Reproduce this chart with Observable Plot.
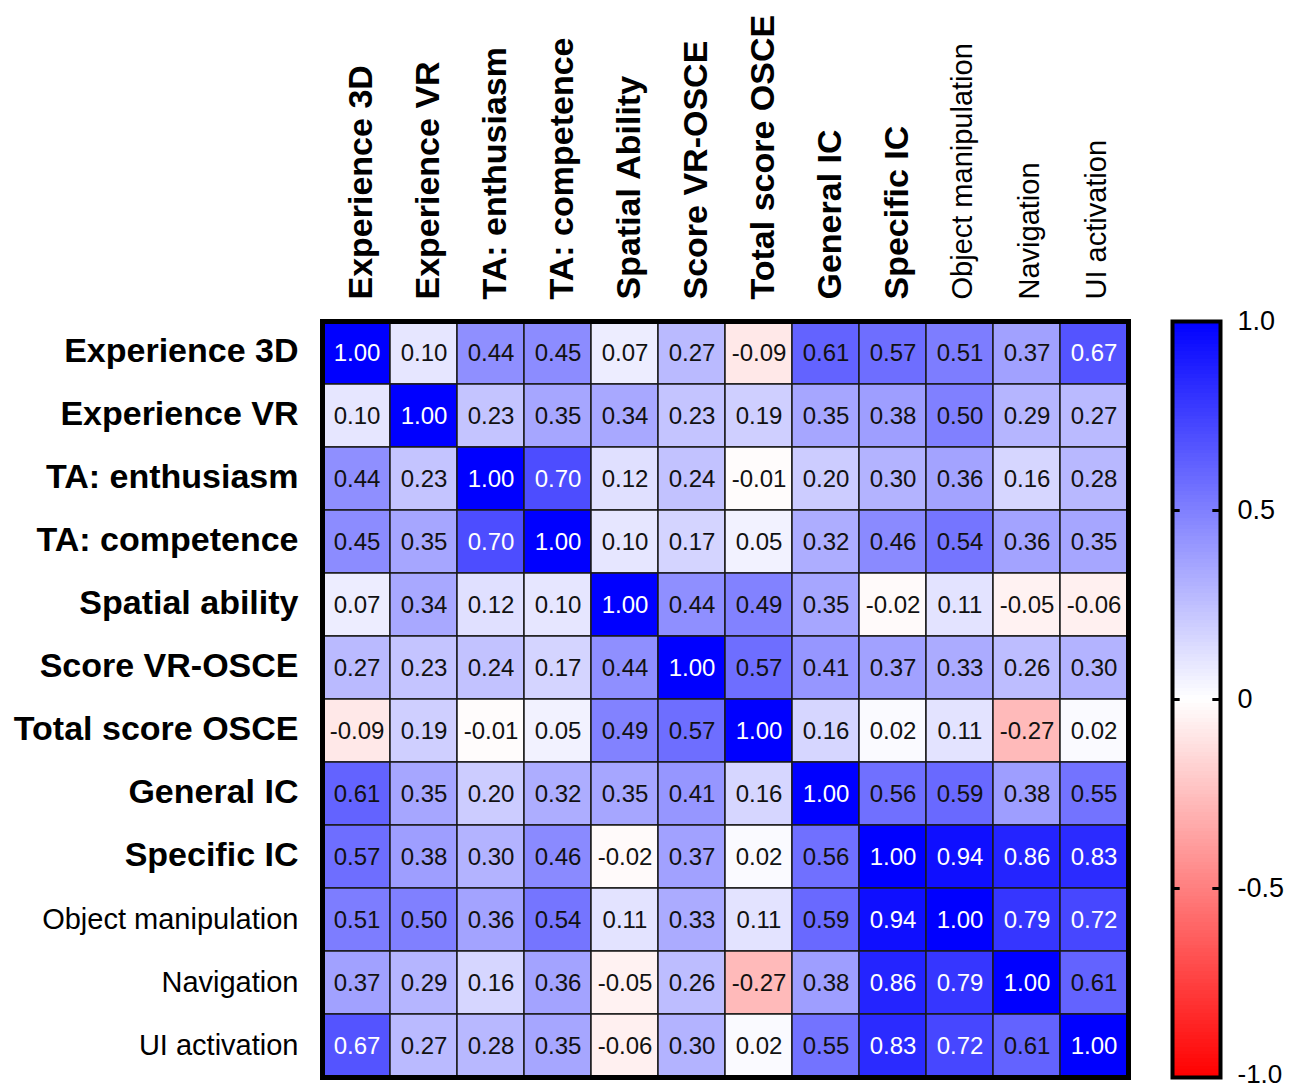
<!DOCTYPE html>
<html>
<head>
<meta charset="utf-8">
<script src="https://cdn.jsdelivr.net/npm/d3@7"></script>
<script src="https://cdn.jsdelivr.net/npm/@observablehq/plot@0.6"></script>
<style>
  html, body { margin: 0; padding: 0; background: #fff; }
  #wrap { position: relative; width: 1293px; height: 1089px; font-family: "Liberation Sans", Arial, sans-serif; }
  #main { position: absolute; left: 0; top: 0; }
  #bar { position: absolute; left: 1150px; top: 0; }
</style>
</head>
<body>
<div id="wrap"><div id="main"></div><div id="bar"></div></div>
<script>
const colLabels = ["Experience 3D", "Experience VR", "TA: enthusiasm", "TA: competence", "Spatial Ability", "Score VR-OSCE", "Total score OSCE", "General IC", "Specific IC", "Object manipulation", "Navigation", "UI activation"];
const rowLabels = ["Experience 3D", "Experience VR", "TA: enthusiasm", "TA: competence", "Spatial ability", "Score VR-OSCE", "Total score OSCE", "General IC", "Specific IC", "Object manipulation", "Navigation", "UI activation"];
const boldCount = 9;

const r_exp3d   = [1.00, 0.10, 0.44, 0.45, 0.07, 0.27, -0.09, 0.61, 0.57, 0.51, 0.37, 0.67];
const r_expvr   = [0.10, 1.00, 0.23, 0.35, 0.34, 0.23, 0.19, 0.35, 0.38, 0.50, 0.29, 0.27];
const r_taenth  = [0.44, 0.23, 1.00, 0.70, 0.12, 0.24, -0.01, 0.20, 0.30, 0.36, 0.16, 0.28];
const r_tacomp  = [0.45, 0.35, 0.70, 1.00, 0.10, 0.17, 0.05, 0.32, 0.46, 0.54, 0.36, 0.35];
const r_spatial = [0.07, 0.34, 0.12, 0.10, 1.00, 0.44, 0.49, 0.35, -0.02, 0.11, -0.05, -0.06];
const r_vrosce  = [0.27, 0.23, 0.24, 0.17, 0.44, 1.00, 0.57, 0.41, 0.37, 0.33, 0.26, 0.30];
const r_osce    = [-0.09, 0.19, -0.01, 0.05, 0.49, 0.57, 1.00, 0.16, 0.02, 0.11, -0.27, 0.02];
const r_genic   = [0.61, 0.35, 0.20, 0.32, 0.35, 0.41, 0.16, 1.00, 0.56, 0.59, 0.38, 0.55];
const r_specic  = [0.57, 0.38, 0.30, 0.46, -0.02, 0.37, 0.02, 0.56, 1.00, 0.94, 0.86, 0.83];
const r_objman  = [0.51, 0.50, 0.36, 0.54, 0.11, 0.33, 0.11, 0.59, 0.94, 1.00, 0.79, 0.72];
const r_nav     = [0.37, 0.29, 0.16, 0.36, -0.05, 0.26, -0.27, 0.38, 0.86, 0.79, 1.00, 0.61];
const r_ui      = [0.67, 0.27, 0.28, 0.35, -0.06, 0.30, 0.02, 0.55, 0.83, 0.72, 0.61, 1.00];
const matrix = [r_exp3d, r_expvr, r_taenth, r_tacomp, r_spatial, r_vrosce, r_osce, r_genic, r_specic, r_objman, r_nav, r_ui];

const barTicks = [-1, -0.5, 0, 0.5, 1];

const cells = [];
matrix.forEach((row, i) => row.forEach((v, j) => cells.push({row: rowLabels[i], col: colLabels[j], v})));

const colorScale = {type: "linear", domain: [-1, 0, 1], range: ["#ff0000", "#ffffff", "#0000ff"], interpolate: "rgb"};
const font = "Liberation Sans, Arial, sans-serif";

const main = Plot.plot({
  width: 1150, height: 1089,
  marginLeft: 322, marginRight: 22, marginTop: 321, marginBottom: 12,
  style: {fontFamily: font, background: "white"},
  x: {domain: colLabels, padding: 0, axis: null},
  y: {domain: rowLabels, padding: 0, axis: null},
  color: colorScale,
  marks: [
    Plot.cell(cells, {x: "col", y: "row", fill: "v", stroke: "#1a1a1a", strokeWidth: 1.5}),
    Plot.text(cells, {x: "col", y: "row", text: d => d.v.toFixed(2), fontSize: 24,
      fill: d => d.v >= 0.65 ? "white" : "#111"}),
    Plot.frame({stroke: "black", strokeWidth: 5}),
    Plot.text(colLabels.slice(0, boldCount), {x: d => d, frameAnchor: "top", rotate: -90, textAnchor: "start", dx: -9, dy: -22, fontSize: 34, fontWeight: "bold", fill: "black"}),
    Plot.text(colLabels.slice(boldCount), {x: d => d, frameAnchor: "top", rotate: -90, textAnchor: "start", dx: -9, dy: -22, fontSize: 29, fill: "black"}),
    Plot.text(rowLabels.slice(0, boldCount), {y: d => d, frameAnchor: "left", textAnchor: "end", dx: -24, dy: -2, fontSize: 34, fontWeight: "bold", fill: "black"}),
    Plot.text(rowLabels.slice(boldCount), {y: d => d, frameAnchor: "left", textAnchor: "end", dx: -24, fontSize: 29, fill: "black"})
  ]
});
document.getElementById("main").appendChild(main);

const step = 0.01;
const steps = d3.range(-1, 1 - step / 2, step);
const fmt = d => d === 0 ? "0" : (d < 0 ? "-" : "") + Math.abs(d).toFixed(1);
const bar = Plot.plot({
  width: 143, height: 1089,
  marginLeft: 22, marginRight: 73, marginTop: 321, marginBottom: 12,
  style: {fontFamily: font, background: "white"},
  x: {domain: [0, 1], axis: null},
  y: {domain: [-1, 1], axis: null},
  color: colorScale,
  marks: [
    Plot.rect(steps, {x1: 0, x2: 1, y1: d => d, y2: d => d + step, fill: d => d + step / 2, shapeRendering: "crispEdges"}),
    Plot.ruleY(barTicks.slice(1, -1), {x1: 0, x2: 0.16, stroke: "black", strokeWidth: 3}),
    Plot.ruleY(barTicks.slice(1, -1), {x1: 0.84, x2: 1, stroke: "black", strokeWidth: 3}),
    Plot.frame({stroke: "black", strokeWidth: 4}),
    Plot.text(barTicks.slice(1), {y: d => d, frameAnchor: "right", textAnchor: "start", dx: 17, fontSize: 27, fill: "black", text: fmt}),
    Plot.text(barTicks.slice(0, 1), {y: d => d, frameAnchor: "right", textAnchor: "start", dx: 17, dy: -3, fontSize: 26, fill: "black", text: fmt})
  ]
});
document.getElementById("bar").appendChild(bar);
</script>
</body>
</html>
